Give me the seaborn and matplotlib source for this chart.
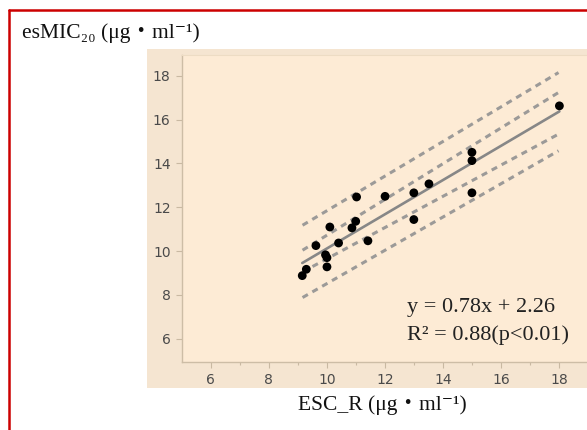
import matplotlib
matplotlib.use("Agg")
import matplotlib.pyplot as plt
from matplotlib.patches import Rectangle
from matplotlib.lines import Line2D
import seaborn as sns
import pandas as pd

esc_r = [9.15, 9.29, 9.62, 9.95, 10.0, 10.0, 10.1, 10.4, 10.86, 10.99,
         11.02, 11.41, 12.0, 12.99, 12.99, 13.51, 14.99, 14.99, 14.99, 18.0]
esmic = [8.88, 9.17, 10.25, 9.83, 9.70, 9.28, 11.1, 10.37, 11.06, 11.36,
         12.47, 10.47, 12.5, 12.66, 11.44, 13.07, 14.51, 14.13, 12.66, 16.63]

# confidence / prediction band end points
band_x = [9.16, 17.97]
upper_pred = [11.18, 18.15]
upper_conf = [10.04, 17.24]
lower_conf = [9.05, 15.34]
lower_pred = [7.88, 14.58]

x_ticks = [6, 8, 10, 12, 14, 16, 18]
y_ticks = [6, 8, 10, 12, 14, 16, 18]

df = pd.DataFrame({"ESC_R": esc_r, "esMIC20": esmic})

sns.set_theme(style="white")
plt.rcParams["font.family"] = ["DejaVu Sans", "Noto Sans CJK SC"]
serif = ["Liberation Serif", "DejaVu Serif", "Noto Sans CJK SC"]

fig = plt.figure(figsize=(5.87, 4.30), dpi=100)

# outer tan panel
fig.patches.append(Rectangle((0.2504, 0.0977), 0.76, 0.788, transform=fig.transFigure,
                             facecolor="#f5e5d1", edgecolor="none", zorder=-5))
# red frame (left and top)
fig.add_artist(Line2D([0.0153, 0.0153], [0.0, 0.977], transform=fig.transFigure,
                      color="#cc0000", lw=1.8))
fig.add_artist(Line2D([0.0153, 1.0], [0.977, 0.977], transform=fig.transFigure,
                      color="#cc0000", lw=1.8))

ax = fig.add_axes([0.3095, 0.1588, 0.6905, 0.7132])
ax.set_facecolor("#fdebd5")

for xs, ys in [(band_x, upper_pred), (band_x, upper_conf),
               (band_x, lower_conf), (band_x, lower_pred)]:
    sns.lineplot(x=xs, y=ys, ax=ax, color="#9c9a98", lw=2.2,
                 linestyle=(0, (2.0, 1.7)), zorder=2)

sns.regplot(data=df, x="ESC_R", y="esMIC20", ax=ax, scatter=False, ci=None,
            line_kws={"color": "#878787", "lw": 1.9, "zorder": 3})
sns.scatterplot(data=df, x="ESC_R", y="esMIC20", ax=ax, color="black",
                s=40, edgecolor="none", zorder=4)

ax.set_xlim(5, 18.95)
ax.set_ylim(4.95, 18.95)
ax.set_xticks(x_ticks)
ax.set_yticks(y_ticks)
ax.set_xticks([7, 9, 11, 13, 15, 17], minor=True)
ax.tick_params(axis="both", which="major", direction="out", length=4, width=0.8,
               color="#c9b9a2", labelsize=10, labelcolor="#4a4a4a", pad=4)
ax.tick_params(axis="x", which="minor", direction="out", length=2.5, width=0.8,
               color="#c9b9a2", bottom=True)
ax.tick_params(axis="x", which="major", bottom=True)
ax.tick_params(axis="y", which="major", left=True)
ax.set_xlabel("")
ax.set_ylabel("")

for side in ["left", "bottom"]:
    ax.spines[side].set_color("#cdbda6")
    ax.spines[side].set_linewidth(1.0)
ax.spines["top"].set_color("#eddcc4")
ax.spines["top"].set_linewidth(0.8)
ax.spines["right"].set_visible(False)

ax.text(12.75, 7.42, "y = 0.78x + 2.26", family=serif, fontsize=16,
        color="#222222", va="center", ha="left")
ax.text(12.75, 6.16, "R² = 0.88(p<0.01)", family=serif, fontsize=16,
        color="#222222", va="center", ha="left")

fig.text(0.0375, 0.912, "esMIC₂₀ (μg・ml⁻¹)", family=serif, fontsize=15.5,
         color="#111111", va="baseline", ha="left")
fig.text(0.652, 0.047, "ESC_R (μg・ml⁻¹)", family=serif, fontsize=15.5,
         color="#111111", va="baseline", ha="center")

fig.savefig("out.png", dpi=100, facecolor="white")
